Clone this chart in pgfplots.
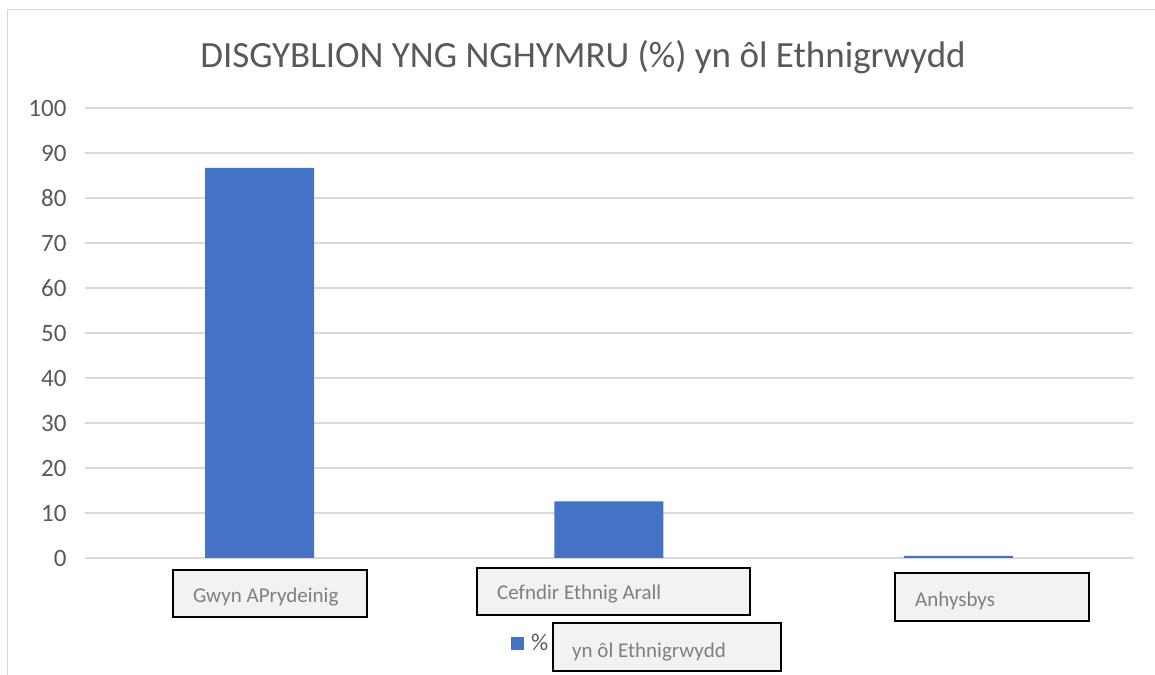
\documentclass[border=0pt]{standalone}
\usepackage{fontspec}
\setmainfont{Carlito}
\usepackage{pgfplots}
\pgfplotsset{compat=1.18}
\definecolor{barblue}{HTML}{4472C4}
\definecolor{gridgray}{HTML}{D9D9D9}
\definecolor{txtgray}{HTML}{595959}
\definecolor{boxtxt}{HTML}{7F7F7F}
\definecolor{boxfill}{HTML}{F2F2F2}
\newcommand{\catbox}[7]{%
  \draw[black, line width=1.2bp, fill=boxfill] (#1bp,#2bp) rectangle (#3bp,#4bp);
  \node[anchor=base west, inner sep=0pt, text=boxtxt, font=\fontsize{21bp}{24bp}\selectfont] at (#5bp,#6bp) {#7};}
\begin{document}
\begin{tikzpicture}
\path[use as bounding box] (0,0) rectangle (1155bp,675bp);
\draw[gridgray, line width=1.3bp] (7.5bp,0) -- (7.5bp,665.5bp) -- (1155bp,665.5bp);
\node[anchor=base, text=txtgray, font=\fontsize{37bp}{42bp}\selectfont, inner sep=0pt] at (583bp,607bp)
  {DISGYBLION YNG NGHYMRU (\%) yn ôl Ethnigrwydd};
\begin{axis}[
  at={(85bp,117bp)}, anchor=south west,
  scale only axis, width=1048bp, height=450bp,
  xmin=-0.5, xmax=2.5, ymin=0, ymax=100,
  ytick={0,10,...,100}, xtick=\empty,
  axis line style={draw=none},
  major tick length=0pt,
  ymajorgrids, grid style={gridgray, line width=1.3bp},
  /pgf/number format/assume math mode=true,
  yticklabel style={text=txtgray, font=\fontsize{25bp}{28bp}\selectfont, xshift=-15bp},
  legend style={at={(0.4065,-0.189)}, anchor=west, draw=none, fill=none, inner sep=0pt,
    text=txtgray, font=\fontsize{24bp}{27bp}\selectfont,
    /tikz/every even column/.append style={column sep=3bp}},
  legend image code/.code={\fill[#1] (0bp,-6.5bp) rectangle (13bp,6.5bp);},
]
\addplot[ybar, bar width=109bp, fill=barblue, draw=none]
  coordinates {(0,86.7) (1,12.6) (2,0.5)};
\addlegendentry{\hspace{5bp}\%}
\end{axis}
\catbox{173}{58}{367}{105}{193}{72}{Gwyn APrydeinig}
\catbox{477}{60}{750}{107}{497}{75}{Cefndir Ethnig Arall}
\catbox{895}{54}{1089}{102}{915}{68}{Anhysbys}
\catbox{553}{4}{781}{52}{572}{18}{yn ôl Ethnigrwydd}
\end{tikzpicture}
\end{document}
